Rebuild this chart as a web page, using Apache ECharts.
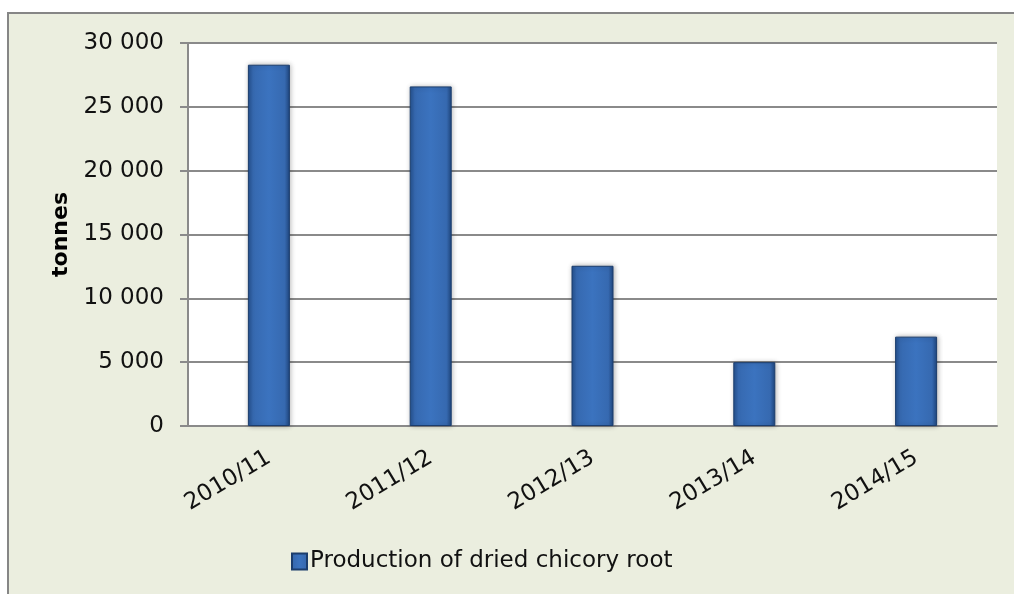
<!DOCTYPE html>
<html>
<head>
<meta charset="utf-8">
<script src="https://cdn.jsdelivr.net/npm/echarts@6/dist/echarts.min.js"></script>
<style>
html,body{margin:0;padding:0;background:#fff;}
#main{width:1014px;height:594px;}
</style>
</head>
<body>
<div id="main"></div>
<script>
const categories = ['2010/11', '2011/12', '2012/13', '2013/14', '2014/15'];
const production = [28300, 26600, 12550, 5000, 7000];
const seriesName = 'Production of dried chicory root';
const yAxisName = 'tonnes';

const FONT = '"DejaVu Sans", sans-serif';
const chart = echarts.init(document.getElementById('main'));

function fmt(v) {
  return String(v).replace(/\B(?=(\d{3})+(?!\d))/g, ' ');
}

const barColor = new echarts.graphic.LinearGradient(0, 0, 1, 0, [
  { offset: 0, color: '#24518f' },
  { offset: 0.12, color: '#3669b0' },
  { offset: 0.5, color: '#3b73bf' },
  { offset: 0.88, color: '#3669b0' },
  { offset: 1, color: '#1f467e' }
]);

chart.setOption({
  backgroundColor: '#ffffff',
  animation: false,
  graphic: [{
    type: 'rect',
    z: -100,
    silent: true,
    shape: { x: 8, y: 13, width: 1012, height: 592 },
    style: { fill: '#ebeedf', stroke: '#868686', lineWidth: 2 }
  }],
  grid: {
    left: 188, top: 43, right: 17, bottom: 168,
    show: true, backgroundColor: '#ffffff', borderWidth: 0
  },
  legend: {
    show: true,
    top: 545,
    left: 286,
    itemWidth: 15, itemHeight: 16,
    itemGap: 5,
    textStyle: { fontFamily: FONT, fontSize: 23, color: '#111', padding: [0, 0, 0, -2] },
    data: [{ name: seriesName, icon: 'rect' }]
  },
  xAxis: {
    type: 'category',
    data: categories,
    axisLine: { show: true, lineStyle: { color: '#8a8a8a', width: 2 } },
    axisTick: { show: false },
    axisLabel: {
      rotate: 31, margin: 30, interval: 0,
      fontFamily: FONT, fontSize: 23, color: '#111'
    }
  },
  yAxis: {
    type: 'value',
    min: 0, max: 30000, interval: 5000,
    name: yAxisName,
    nameLocation: 'middle',
    nameGap: 116,
    nameTextStyle: { fontFamily: FONT, fontSize: 22, fontWeight: 'bold', color: '#000' },
    axisLine: { show: true, lineStyle: { color: '#8a8a8a', width: 2 } },
    axisTick: { show: true, length: 8, lineStyle: { color: '#8a8a8a', width: 2 } },
    axisLabel: {
      margin: 24, fontFamily: FONT, fontSize: 23, color: '#111',
      formatter: fmt
    },
    splitLine: { show: true, lineStyle: { color: '#8a8a8a', width: 2 } }
  },
  series: [{
    type: 'bar',
    name: seriesName,
    data: production,
    barWidth: 42,
    itemStyle: {
      color: barColor,
      borderColor: '#1b3d6d',
      borderWidth: 1,
      shadowBlur: 5,
      shadowColor: 'rgba(0,0,0,0.3)',
      shadowOffsetX: 1
    }
  }]
});
</script>
</body>
</html>
